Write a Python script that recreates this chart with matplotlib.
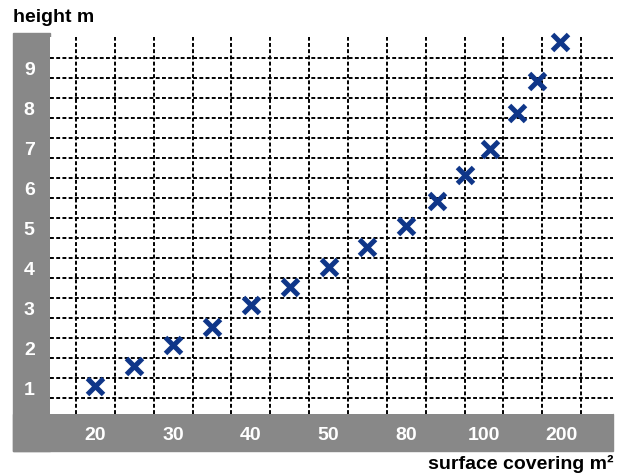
import numpy as np
import matplotlib
matplotlib.use("Agg")
import matplotlib.pyplot as plt
from matplotlib.patches import Rectangle
from matplotlib.ticker import FixedLocator, NullFormatter

# tick values on the (uneven) surface axis
x_ticks = [20, 30, 40, 50, 80, 100, 200]
y_ticks = [1, 2, 3, 4, 5, 6, 7, 8, 9]

# measured points
surface = [20, 25, 30, 35, 40, 45, 50, 65, 80, 88, 95, 108, 143, 168, 198]
height = [1.05, 1.55, 2.08, 2.53, 3.08, 3.53, 4.03, 4.53, 5.04, 5.69,
          6.34, 6.99, 7.87, 8.67, 9.65]

grey = '#888888'
blue = '#0f3689'

plt.rcParams['font.family'] = ['Liberation Sans', 'DejaVu Sans']

# piecewise linear scale, each labelled value one step apart
xv = np.array([0] + x_ticks + [1000], float)
xp = np.array([-2] + list(range(len(x_ticks))) + [14], float)

def fwd(x):
    return np.interp(x, xv, xp)

def inv(p):
    return np.interp(p, xp, xv)

W, H = 627, 476
fig = plt.figure(figsize=(W / 100, H / 100), dpi=100)

# grey frame: left band and bottom band
fig.add_artist(Rectangle((13 / W, 1 - 451 / H), 37 / W, 418 / H,
                         transform=fig.transFigure, color=grey, zorder=0))
fig.add_artist(Rectangle((13 / W, 1 - 451 / H), 600 / W, 37 / H,
                         transform=fig.transFigure, color=grey, zorder=0))

ax = fig.add_axes([50 / W, 1 - 414 / H, 563 / W, 377 / H])
ax.set_facecolor('white')
ax.set_xscale('function', functions=(fwd, inv))
ax.set_xlim(inv(-0.585), inv(6.66))
ax.set_ylim(0.35, 9.78)

ax.xaxis.set_major_locator(FixedLocator(x_ticks))
ax.set_xticklabels([str(v) for v in x_ticks])
ax.xaxis.set_minor_locator(FixedLocator(inv(np.arange(-0.25, 6.3, 0.5))))
ax.xaxis.set_minor_formatter(NullFormatter())
ax.yaxis.set_major_locator(FixedLocator(y_ticks))
ax.set_yticklabels([str(v) for v in y_ticks])
ax.yaxis.set_minor_locator(FixedLocator(np.arange(0.75, 9.3, 0.5)))
ax.yaxis.set_minor_formatter(NullFormatter())

ax.grid(True, which='minor', color='black', linestyle=(0, (2, 1.2)), linewidth=1.4)
ax.grid(False, which='major')
ax.tick_params(which='both', length=0)
ax.tick_params(axis='x', colors='white', labelsize=14, pad=9)
ax.tick_params(axis='y', colors='white', labelsize=14, pad=11)
for lab in ax.get_xticklabels() + ax.get_yticklabels():
    lab.set_fontweight('bold')
for s in ax.spines.values():
    s.set_visible(False)

ax.plot(surface, height, linestyle='none', marker='x', markersize=11,
        markeredgewidth=3.6, color=blue, clip_on=False, zorder=3)

fig.text(13 / W, 1 - 17 / H, 'height m', fontsize=14, fontweight='bold',
         ha='left', va='center')
fig.text(613 / W, 1 - 464 / H, 'surface covering m²', fontsize=14,
         fontweight='bold', ha='right', va='center')

fig.savefig('out.png', dpi=100)
